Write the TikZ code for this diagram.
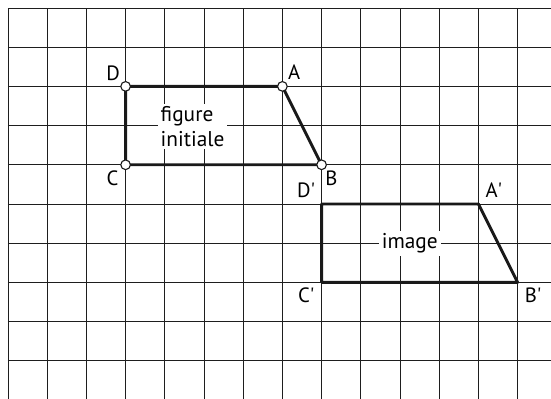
\documentclass[tikz,border=0pt]{standalone}
\usepackage{fontspec}
\setmainfont{PT Sans}
\usetikzlibrary{positioning}
\definecolor{gridgray}{HTML}{1E1E1E}

\tikzset{
  gridline/.style={gridgray, line width=0.7pt},
  shapeline/.style={black!90, line width=2.1pt, line join=round},
  vertexdot/.style={circle, draw=black!90, fill=white, line width=0.8pt, inner sep=0pt, minimum size=7pt},
  ptlabel/.style={inner sep=1pt, font=\fontsize{15}{17}\selectfont},
  tag/.style={fill=white, inner sep=2pt, font=\fontsize{15.5}{18}\selectfont}
}

\begin{document}
\begin{tikzpicture}[x=1cm, y=1cm]

  % Canvas and squared paper
  \useasboundingbox (-0.204, 0.026) rectangle (13.852, 10.204);
  \fill[white] (-0.204, 0.026) rectangle (13.852, 10.204);
  \draw[gridline] (0, 0.026) grid (13.852, 10);

  % Vertices of the initial figure and of its image
  \coordinate (A) at (7, 8);
  \coordinate (B) at (8, 6);
  \coordinate (C) at (3, 6);
  \coordinate (D) at (3, 8);
  \coordinate (A') at (12, 5);
  \coordinate (B') at (13, 3);
  \coordinate (C') at (8, 3);
  \coordinate (D') at (8, 5);

  % ==================== 1. FIGURES ====================
  \draw[shapeline] (D) -- (A) -- (B) -- (C) -- cycle;
  \draw[shapeline] (D') -- (A') -- (B') -- (C') -- cycle;

  \foreach \p in {A, B, C, D} {
    \node[vertexdot] (dot\p) at (\p) {};
  }

  % ==================== 2. LABELS ====================
  \node[ptlabel, above left=3pt and 3pt of D] (lblD) {D};
  \node[ptlabel, above right=4pt and 3pt of A] (lblA) {A};
  \node[ptlabel, below right=3pt and 1.5pt of B] (lblB) {B};
  \node[ptlabel, below left=3pt and 4pt of C] (lblC) {C};
  \node[ptlabel, above left=3.5pt and 3.5pt of D'] (lblD') {D\textquotesingle};
  \node[ptlabel, above right=3.5pt and 4pt of A'] (lblA') {A\textquotesingle};
  \node[ptlabel, below right=3pt and 4pt of B'] (lblB') {B\textquotesingle};
  \node[ptlabel, below left=3pt and 4pt of C'] (lblC') {C\textquotesingle};

  \node[tag, align=left] (figinit) at (4.71, 6.98) {figure\\initiale};
  \node[tag] (figimage) at (10.25, 4) {image};

\end{tikzpicture}
\end{document}
